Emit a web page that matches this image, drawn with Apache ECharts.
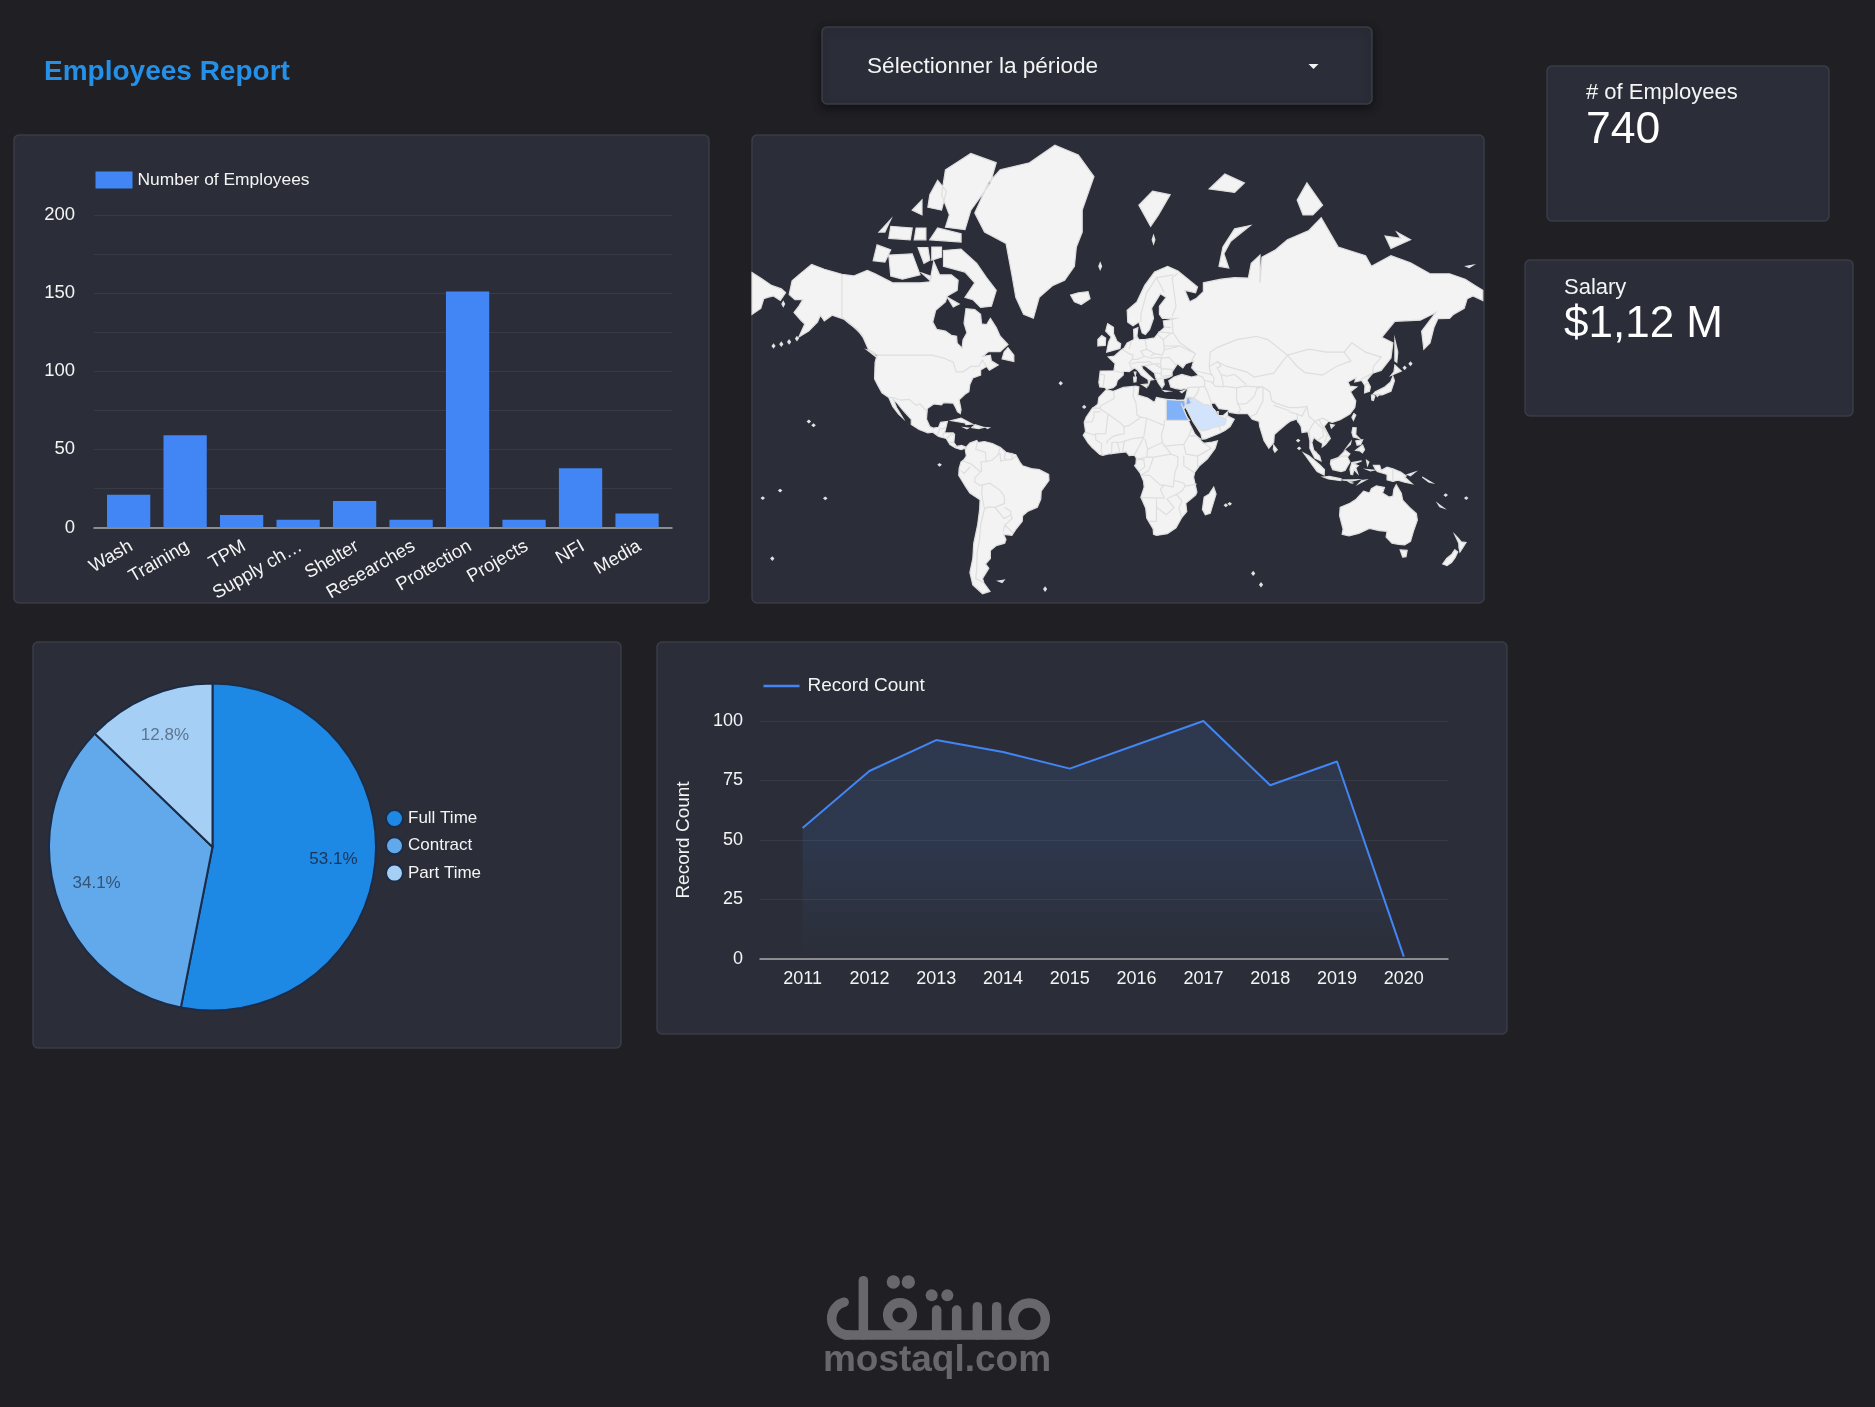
<!DOCTYPE html>
<html>
<head>
<meta charset="utf-8">
<title>Employees Report</title>
<script src="https://cdn.jsdelivr.net/npm/echarts@6/dist/echarts.min.js"></script>
<style>
  html, body { margin: 0; padding: 0; background: #1f1f24; }
  #chart { width: 1875px; height: 1407px; }
</style>
</head>
<body>
<div id="chart"></div>
<script>
// ---- Chart values ----
const departments = ['Wash', 'Training', 'TPM', 'Supply ch…', 'Shelter', 'Researches', 'Protection', 'Projects', 'NFI', 'Media'];
const employeesByDepartment = [21, 59, 8, 5, 17, 5, 151, 5, 38, 9];
const contractTypes = ['Full Time', 'Contract', 'Part Time'];
const contractShares = [53.1, 34.1, 12.8];
const years = ['2011', '2012', '2013', '2014', '2015', '2016', '2017', '2018', '2019', '2020'];
const recordCounts = [55, 79, 92, 87, 80, 90, 100, 73, 83, 1];
const countryNames = ['Saudi Arabia', 'Egypt', 'Jordan', 'Qatar'];
const countryValues = [60, 170, 170, 280];

// ---- Coarse world geography, longitude/latitude ----
const northAmerica = [[-168,65.6],[-166.5,68.4],[-163,69.5],[-156.5,71.3],[-150,70.5],[-141,69.6],[-135,69.3],[-128,70.3],[-124,69.7],[-115,68],[-108,68],[-101,68],[-96,68.2],[-94,71.8],[-91,69.5],[-85,69.5],[-81.5,68.5],[-82,66.5],[-87,65.3],[-88,64],[-93,62],[-94.5,59],[-92.5,57],[-88,56.5],[-85,55.3],[-82.3,55],[-82,52.9],[-79.5,51.3],[-79,54],[-77,56],[-78.5,58.7],[-77.5,62.4],[-73,62.2],[-70,61],[-69.5,58.5],[-67,58.3],[-65,60],[-62,57.5],[-60,55],[-56,52.5],[-60,50.2],[-66,50.2],[-69,48.5],[-65,49],[-64.5,47],[-61,45.5],[-65.5,43.6],[-67,45],[-70,43.7],[-70,41.7],[-74,40.6],[-75.5,38],[-76,35],[-78,33.9],[-81,31.5],[-80,27],[-80.4,25.2],[-81.8,26],[-82.8,28],[-84,30],[-89,30.2],[-90,29.2],[-94,29.6],[-97.3,27.5],[-97.7,22.5],[-96,19],[-94.3,18.2],[-91.5,18.6],[-90.5,21],[-87,21.5],[-88,17.5],[-88.5,15.8],[-84,15.8],[-83.3,15],[-83.7,11],[-82.3,9],[-79.7,9.5],[-77.4,8.6],[-78.2,8],[-80,7.3],[-83,8.3],[-85.7,10],[-87.6,13],[-91.5,14],[-94.5,16.2],[-97,15.9],[-101.5,17.5],[-105.5,20],[-105.5,22.5],[-109.5,26.5],[-112.7,30],[-114.7,31.7],[-113,28],[-110,23.5],[-109.7,23],[-112,25],[-115,28.5],[-117,32.5],[-120.5,34.5],[-122.5,37.5],[-124.3,40.3],[-124,46.5],[-123,49],[-127.5,51],[-130,54.5],[-133,57],[-137,58.5],[-140,59.8],[-146,60.8],[-150,59.3],[-152,60.8],[-153.5,59],[-158,56.5],[-163,54.8],[-160,58.5],[-162,59.5],[-165.5,61.5],[-163,63],[-161,64.5],[-165,64.5]];
const southAmerica = [[-77.4,8.6],[-75.5,10.7],[-72,12],[-71.5,11],[-68,11.5],[-64,10.5],[-60,8.5],[-57,6],[-52,4.7],[-50,1],[-48.5,-1],[-44,-2.5],[-40,-3],[-35.2,-5.5],[-35,-8.5],[-39,-14],[-39.2,-18],[-41,-22],[-46,-24],[-48.5,-26],[-48.7,-28.5],[-52,-32.2],[-54,-34.7],[-58.3,-34.3],[-57,-36.5],[-57.7,-38],[-62,-39],[-65,-41],[-65,-44],[-67.5,-46],[-65.8,-47.5],[-69,-51],[-68.3,-52.5],[-65.2,-55],[-69,-55.7],[-74,-53],[-75.5,-49],[-74,-44],[-73.5,-38],[-71.5,-30],[-70.5,-23],[-70.3,-18.3],[-75.5,-15],[-77.5,-12],[-81.2,-6],[-81,-2.3],[-80,1],[-78.7,2],[-77.3,4],[-77.8,7]];
const eurasia = [[-9,37],[-9.5,38.8],[-8.8,43.3],[-1.8,43.4],[-1.2,46],[-4.7,48.4],[-1.5,48.7],[1.5,50.5],[3.5,51.4],[5,53],[8.5,54],[8.3,57],[10.5,57.5],[10,55],[11,54],[14,54],[19,54.5],[21,56],[24,57.5],[23.5,59.3],[28,59.7],[30,60],[23,60],[21.5,61],[21.5,63],[25,65],[22,65.8],[17.5,62.5],[18.5,60],[16.5,57],[14.3,55.5],[12.7,56],[11,59],[8,58],[5.3,59],[5,62],[10,64],[14,67.5],[19,70],[25.7,71],[31,70.2],[41,67.2],[40,66],[34.5,66.5],[37,64],[40.5,64.8],[44,66.2],[44,68],[53,68.7],[60,69],[67,68.9],[68.5,71.5],[73,72.8],[73,68],[74,72.5],[81,73.6],[87,75],[98,76.2],[104.3,77.7],[113,74],[127,72.7],[130,71],[140,72.7],[150,71.6],[160,69.7],[170,69.7],[178,68.7],[183,67.5],[187,66.5],[187,64.3],[182,65.3],[179,64.7],[177.5,62.5],[172,61],[170,60],[164,59.9],[162,57.5],[160,53],[156.8,51],[155.7,56.5],[163,61.5],[155,59.5],[142,59.2],[135.3,54.7],[141,53],[140,48],[135,43.5],[130.7,42.5],[127.7,39.8],[129.5,37],[129,35.2],[126.5,34.5],[126.7,37.5],[125,39.6],[121.5,39],[122,40.7],[118,39],[119,37.3],[122.5,37],[119.3,35],[122,31],[121.5,28],[119,25],[114,22.3],[110,21],[108,21.6],[105.8,19],[109,13],[106.5,10],[104.8,8.7],[105,10.5],[102.5,12],[100.5,13.5],[99.5,11],[100.5,7],[103.5,4],[104.2,1.5],[101,3],[98.5,8],[98.5,12],[97.5,16.5],[94.5,16],[94,19],[91.7,22.5],[88.5,21.6],[86.8,20.5],[82.3,16.8],[80.3,15],[80,11],[77.5,8],[75,12],[72.8,19],[72.5,21.5],[69,22.5],[66.7,25.2],[61.6,25.2],[57.3,25.7],[56.5,27],[52,27.5],[50,30],[48,30],[48.5,28],[50,26.5],[50.8,24.8],[51.6,24.2],[54,24.2],[56.3,26],[56.5,24],[59.8,22.5],[57.7,19],[55,17],[52,15.5],[45,12.8],[43.4,12.7],[42.7,15.5],[39,21],[36,26.5],[35,28],[34.8,29.5],[34.3,31.3],[35,33],[36,36.5],[32.5,36],[30,36.3],[27.3,37],[26.3,39.5],[29,41],[33,42],[38,41],[41.6,41.6],[38,44.5],[39,47],[35,46],[33.5,44.5],[30.8,46],[28,43],[28,41.5],[26,40.7],[23.5,40.2],[24,38],[22.8,36.6],[21,38.5],[19.5,41],[19,42.5],[14,45.3],[12.3,45.3],[13,44],[16,41.8],[18.5,40],[16.8,39.8],[16,38],[15.7,40],[12.2,41.8],[10.3,43.7],[8.7,44.4],[6,43.1],[3,43.2],[3,41.8],[0,39.7],[-0.7,37.7],[-2.2,36.7],[-5.5,36],[-6.5,36.8]];
const caspianSea = [[47,45],[51.5,46.8],[53,45],[51,44.5],[53,42],[54,39],[54,37],[50,37.3],[49,38.5],[49.5,40.5],[47.5,43]];
const africa = [[34.3,31.3],[32.3,31.2],[30,31.3],[25,31.7],[20,32.5],[19,30.3],[15.5,32.3],[10.5,33.5],[11,37],[9.5,37.3],[3,36.8],[-2,35.2],[-5.8,35.8],[-9.5,32.5],[-10,29.5],[-13,27.5],[-16,23.5],[-17,21],[-16.3,16.5],[-17.5,14.7],[-15,10.8],[-13,8.5],[-9,4.8],[-7.5,4.4],[-4,5.2],[1,5.8],[4.5,6.2],[6,4.3],[8.7,4.5],[9.7,3],[9.5,0],[8.8,-1],[11.5,-4.5],[13.4,-9],[13.7,-12],[12,-17],[14.5,-22.5],[15,-27],[18.3,-32],[18.5,-34.3],[20,-34.8],[25.6,-34],[30,-31.5],[32.8,-27],[35.5,-24],[35,-20],[40,-16],[40.7,-14.5],[39,-7],[39.5,-4.5],[42,-1],[46,2.5],[50,8],[51.2,11.8],[48.5,11.2],[44,10.5],[43,11.7],[39.5,15.5],[37.2,20],[35.6,23.5],[33.6,27.8],[32.6,29.9],[33.5,28],[34.3,27.8],[34.8,29.5]];
const australia = [[114,-22],[113.7,-26],[115.5,-32],[115,-34.3],[118.5,-35],[123.5,-33.9],[129,-31.7],[134,-32.7],[138,-33],[137.5,-35.5],[140.5,-38],[144,-38.5],[147,-38.7],[150,-37.3],[151.5,-33],[153.5,-28],[153,-25],[149.5,-22],[146,-18.5],[145.3,-15],[142.7,-10.8],[141.5,-13],[141,-16.5],[139,-17],[135.7,-15],[136.7,-12.2],[132.5,-11.3],[130,-12.8],[129,-15],[126,-14],[122.2,-18],[119,-20]];
const islands = [
  [[-73,78.2],[-66,81],[-60,82],[-45,82.5],[-32,83.6],[-20,83],[-12,81.5],[-18,78.5],[-18,76],[-21,74],[-22,71],[-27,68.5],[-33,67.5],[-40,65],[-43,60],[-48,61],[-52,65],[-54,69.5],[-57,74.5],[-68,76]],
  [[-80,73.7],[-72,71.5],[-67,69],[-62,66.5],[-64.5,63],[-70,62.7],[-74,64.5],[-78,65],[-73,68],[-78,70],[-89,71],[-89,73.5]],
  [[-117,72.8],[-105,73],[-101,69.5],[-110,68.7],[-116,69.3]],
  [[-125,71.9],[-123,74.3],[-116,73.6],[-119,71.7]],
  [[-88,76.6],[-78,76.3],[-75,78.5],[-65,81],[-62,82.5],[-75,83.1],[-88,82],[-90,80],[-86,78]],
  [[-97,78.8],[-90,78.5],[-87.5,80.3],[-92,81.2],[-96,80]],
  [[-96,75],[-80,74.7],[-80,75.8],[-92,76.5]],
  [[-117,75.2],[-106,75],[-105,76.5],[-116,76.7]],
  [[-122,76],[-116,77.5],[-119,76]],
  [[-104,75],[-98,75],[-98,76.5],[-103,76.5]],
  [[-105,78.5],[-100,78],[-100,79.5]],
  [[-95,74],[-90,74],[-90,72.5],[-95,72]],
  [[-102,73.9],[-99,71.5],[-96,72],[-97,73.9]],
  [[-100,69.8],[-95,69.2],[-96,68.5]],
  [[-87,65],[-81,63.5],[-84,62.8]],
  [[-59,47.7],[-53,46.8],[-53,49],[-56,51.5],[-58,50]],
  [[-128,50.7],[-123.5,48.4],[-125,50]],
  [[-5.5,50],[1.3,51.2],[1.7,52.7],[-0.2,53.5],[-2,55.8],[-2,57.6],[-5,58.6],[-6,56.5],[-3.2,54.8],[-4.5,53.3],[-5,51.7]],
  [[-10,52],[-6.2,52.2],[-6,54.5],[-8,55.2],[-10,54]],
  [[-24,65.5],[-22,64],[-18.5,63.4],[-14,64.7],[-15,66.2],[-20,66]],
  [[11,79],[17,76.7],[21,78],[27,80],[18,80.3]],
  [[52,71],[57,70.7],[54.5,73],[58,74.8],[68,76.8],[60,76.4],[54,74]],
  [[47,80.5],[60,80.2],[65,81],[55,81.7]],
  [[92,79.5],[97,81],[105,79],[100,78],[95,78]],
  [[137,75.5],[140,73.8],[150,75],[143,76],[145,75.2]],
  [[178.5,71],[182,71.2],[180,70.8]],
  [[-187,69.9],[-182,68.8],[-177,67.5],[-172,66.8],[-169.8,66],[-172.5,64.3],[-176,65.3],[-179,65],[-181,64.7],[-182.5,62.5],[-187,61]],
  [[142,54],[143.5,50],[143,46.5],[142,47],[142,51]],
  [[130.9,34],[135.5,33.6],[140,35.2],[141.8,39.5],[141,41.3],[139.8,39],[136.8,37],[132,35]],
  [[140,41.6],[145.3,43.3],[142,45.5],[141.5,43]],
  [[130,33.5],[131.8,33.2],[131,31.2],[130.2,31.4]],
  [[132.5,33.8],[134.5,34],[133,32.9]],
  [[121,25.2],[122,24.5],[120.8,22],[120,23.5]],
  [[120.5,18.5],[122.2,18.4],[122,15],[124,13],[120.7,13.8],[120,16]],
  [[122,7],[125.5,9.7],[126.5,7.3],[125.4,5.7],[124,6.7]],
  [[122,11.8],[125.5,12.4],[124.5,10],[122.7,9.6]],
  [[117.3,8.4],[119.5,11.3],[119.2,10]],
  [[109.3,2],[113,3.2],[116.7,7],[119,5.2],[117.7,3.5],[119,1],[116.5,-3.5],[114.5,-4],[110.2,-3],[109,0]],
  [[95.3,5.6],[98,4.2],[103.5,-0.5],[106,-3],[105.8,-5.8],[102.2,-4],[98.8,0.7]],
  [[105.3,-6.8],[108.5,-6.5],[114.5,-7.7],[114.4,-8.7],[108,-7.8]],
  [[119.5,-5.5],[119,-2.8],[120,0.7],[125,1.5],[121,0],[123.3,-1],[122,-2],[123,-5],[121,-3],[120.4,-5.6]],
  [[115,-8.3],[120,-8.3],[123,-8.2],[120,-9]],
  [[123.5,-10.3],[127,-8.4],[125,-8.7]],
  [[119,-9.5],[120.8,-10],[119.5,-9.8]],
  [[131,-0.8],[134.2,-0.8],[135,-3.3],[138,-1.7],[141,-2.6],[145,-4.3],[147.8,-6.3],[147,-6.8],[150.8,-10.3],[147,-9.5],[143.5,-8.5],[141,-9.1],[138,-8.3],[138,-5.5],[133,-4],[132,-2.8]],
  [[127.9,-3],[131,-3.3],[129.5,-3.6]],
  [[127.5,1.8],[128.7,1],[128,-0.8]],
  [[148.5,-5.6],[152.3,-4.3],[150,-6.2]],
  [[156,-6.8],[161,-9.8],[159.5,-9.5]],
  [[164,-20.2],[167,-22.3],[165,-21.7]],
  [[172.7,-34.5],[174.5,-36],[176,-37.5],[178.4,-37.7],[177,-39.5],[175.3,-41.5],[174.8,-39.8],[174.7,-38]],
  [[172.7,-40.6],[174.2,-41.5],[172.8,-43.7],[171,-45.5],[168.7,-46.6],[166.5,-46],[168.5,-44],[171,-42.5]],
  [[144.7,-40.7],[148.3,-40.9],[147.7,-43.3],[146,-43.5]],
  [[80,9.7],[81.8,7.3],[80.6,6],[79.8,7.5]],
  [[109,20],[111,19.7],[109.5,18.2]],
  [[49.3,-12],[50.5,-15.5],[47.5,-24.8],[45,-25.5],[43.5,-23],[44.4,-17],[47,-15.4]],
  [[-85,21.9],[-80,23.1],[-74.2,20.2],[-77.5,19.9],[-78,20.7]],
  [[-74.4,18.5],[-72.8,19.9],[-68.4,18.6],[-71,18]],
  [[-78.3,18.4],[-76.3,18.2],[-77,17.8]],
  [[-67.2,18.5],[-65.7,18.4],[-66.5,18]],
  [[12.5,38],[15.6,38.2],[15,36.7]],
  [[8.3,41],[9.7,41],[9.5,39.1],[8.5,39]],
  [[8.6,42.9],[9.5,42.9],[9.2,41.5]],
  [[23.6,35.5],[26.3,35.2],[24.5,35]],
  [[32.3,35],[34.5,35.6],[33,34.6]],
  [[-61,-51.8],[-58,-51.5],[-59,-52.3]]
];
// Tiny islands, drawn as small diamonds.
const smallIslands = [[-155.5,19.6],[-157.9,21.4],[-176,52],[-172,52.6],[-168,53.3],[-164,54.3],[-171,63.5],[-91,-0.5],[-149.5,-17.6],[-172.6,-13.7],[178.5,-17.5],[-181.5,-17.5],[-176.6,-44],[69.5,-49.3],[73.5,-53],[-37,-54.3],[-17,28.3],[-29,38.5],[57.5,-20.3],[55.5,-21],[18.5,75],[-8.8,71],[168,-16],[150,46],[147,44.5],[92.5,12],[93,8]];
const saudiArabia = [[34.8,29.5],[36,29.2],[38,30],[37,31.5],[39,32.2],[44.7,29.2],[46.5,29.1],[48,29],[48.5,28],[50,26.5],[50.8,24.8],[51.6,24.2],[55.2,22.7],[55.7,22],[55,20],[52,19],[49,18.5],[46,17.3],[43.2,16.8],[42.7,16.5],[39,21],[36,26.5],[35,28]];
const egypt = [[25,31.7],[30,31.3],[32.3,31.2],[34.3,31.3],[34.8,29.5],[34.3,27.8],[33.5,28],[32.6,29.9],[33.6,27.8],[35.6,23.5],[36.9,22],[25,22]];
const jordan = [[35,29.5],[35.5,32.4],[36.8,32.3],[39,32.2],[37,31.5],[38,30],[36,29.2]];
const qatar = [[50.8,24.8],[51.6,24.6],[51.6,26.1],[51,26.1]];
const borders = [
  [[-123,49],[-95,49],[-89,48],[-84,46.5],[-82.5,43],[-79,43],[-75,45],[-71,45],[-69,47.3],[-67,45]],
  [[-141,69.6],[-141,60.2],[-137.5,59],[-130,55]],
  [[-117,32.5],[-114.7,32.5],[-111,31.3],[-106.5,31.7],[-103,29],[-101,29.7],[-97.3,25.9]],
  [[-92.2,14.5],[-91,17.8],[-89,17.9],[-88.3,18.5]],[[-89.2,14],[-89,15.9]],[[-87.5,13],[-85,14.9],[-83.2,15]],[[-85.7,11.1],[-83.7,11]],[[-83,8.3],[-82.8,9.6]],[[-77.4,8.6],[-77.9,7.2]],
  [[-71.5,11.8],[-72.5,7.5],[-67.5,6],[-67.3,2],[-67,1.2],[-69.8,1],[-69.5,-4.2]],
  [[-78.7,1.4],[-75,0],[-70,-4.2]],[[-80.3,-3.4],[-78.5,-5],[-75.3,-1.5]],
  [[-60,8.3],[-61,5],[-60,5.2],[-59.8,1.5],[-56.5,2],[-54,2.3],[-52,3.8]],[[-67,1.2],[-64,2],[-60.7,5]],[[-57.2,6],[-57.9,3],[-56.5,2]],[[-54,5.8],[-54,2.3]],
  [[-70,-4.2],[-73,-7.3],[-73,-9.5],[-70.6,-11],[-69,-11]],
  [[-69.5,-11],[-65.3,-10],[-60.2,-13.5],[-58,-16.3],[-57.7,-20],[-62.7,-22],[-66.2,-21.8],[-68,-22.8],[-69,-18],[-69.5,-15],[-69,-11]],
  [[-62.7,-22],[-58,-20.2]],[[-57.7,-22],[-54.5,-24],[-54.6,-25.6],[-58,-27.2],[-62.7,-22]],
  [[-68,-22.8],[-70,-30],[-70.5,-36],[-71.8,-42],[-72,-48],[-72.5,-51],[-68.5,-52.3]],
  [[-54.6,-25.6],[-53.8,-27.2],[-57.6,-30.2],[-58.4,-33]],[[-57.6,-30.2],[-53.5,-33.7]],
  [[-2,35],[-1.5,32.2],[-8.7,28.7],[-8.7,27.3]],[[-13,27.7],[-8.7,27.7]],[[-8.7,26],[-12,26],[-12,23.4],[-13,21.3],[-17,21]],
  [[-8.7,27.3],[-4.8,25],[-6,15.5],[-11.3,15.3],[-12.2,14.8],[-16.5,16.2]],
  [[-4.8,25],[1.2,21],[3.3,19],[5.8,19.4],[12,23.5]],[[8.5,37],[8,33],[9.5,30.2],[10,24.5],[12,23.5]],
  [[12,23.5],[15,23],[24,19.5]],[[24,22],[24,19.5],[22.5,15],[23,11]],[[15,23],[13.5,14]],[[3.6,11.7],[8,13],[13.5,13.7]],[[3.3,19],[3.5,15.4],[1,15]],
  [[-5.5,10.4],[-5,12],[-2,14.2],[1,15]],[[-3,11],[2.2,11.2],[3.6,11.7]],[[-11.3,15.3],[-11,12.2],[-8,10.5],[-8.3,7.6]],[[-7.5,4.4],[-8.5,7.5]],[[-3,5],[-2.8,11]],[[1.2,6.1],[0,11]],[[2.7,6.4],[3.6,11.7]],
  [[8.7,4.5],[13.5,13.7]],[[14,13],[15.5,7.5],[15,3.5],[9.8,2.3]],[[15.5,7.5],[23,11],[27.5,5]],[[18.5,3.5],[27.5,5],[31,3.7]],[[15,3.5],[18.5,3.5],[16,-3.5],[12.2,-5.8]],[[9.8,2.3],[13.5,2.2],[14,-1.5],[11.2,-3.9]],
  [[12.2,-5.9],[16.5,-6],[22,-11],[24,-11],[28.5,-12],[29,-8.5],[29.5,-4],[30.8,-1],[31,3.7]],
  [[36.5,14.3],[34,10],[35,5]],[[23.5,9],[28,9.5],[34,10]],[[34,4.2],[34,-1]],[[34,-1],[39.5,-4.6]],[[35,5],[41,4],[41,-1.6]],[[41,4],[48,8],[43,11.5]],[[36.5,14.3],[38,18]],[[36.5,14.3],[40,14.5],[43,12.5]],
  [[29,-8.5],[34,-10],[34.7,-11.5],[40.5,-10.5]],[[12,-17.3],[24,-17.5],[22,-13],[24,-11]],[[20,-18],[20,-28.5],[16.5,-28.6]],[[20,-22],[25,-25.5],[29,-22.2],[25.3,-17.8]],[[25.3,-17.8],[30.3,-15.6],[33,-14],[34.7,-11.5]],[[32.9,-26.8],[31.5,-22.3],[33,-19],[30.3,-15.6]],
  [[-1.8,43.4],[3,42.5]],[[-8.8,42],[-6.5,41.8],[-7.3,37.2]],[[2.5,51],[6,49.5],[8,49],[7.5,47.5],[6,46.3],[7.5,44]],[[6,51],[7,53.3]],[[9,54.8],[10,54.5]],
  [[14.2,54],[15,51],[12,50.3],[13.8,48.6],[10,47.5],[7.5,47.5]],[[15,51],[19,49.5],[23,49],[24,50.8],[23.5,54]],[[21,55.3],[23.5,54],[27,55.8],[28.5,56]],[[21,56.3],[27,56]],[[24,57.7],[27.5,57.5]],
  [[7,45.9],[10,46.5],[13.7,46.5],[16.5,46.8]],[[13.8,48.6],[17,48]],[[19,49.5],[17,48.7]],[[17,48],[22.5,48.2],[22,46],[18,45.8],[16.5,46.8]],[[22.5,48],[26.5,48.2],[30,45.5]],[[22,46],[22.5,44.2],[28.5,43.8]],[[22.5,44.2],[22.5,41.3],[26.5,41.5],[28,42]],[[19.5,40],[26.3,41]],[[14,45.3],[19,45.9],[22.5,44.2]],[[19,42.5],[22.5,42.3]],
  [[24,50.8],[32,52],[40,49.5],[38,47]],[[23.5,52],[32,52]],[[28,59.5],[28.5,56],[32,53],[40,49.5]],[[31,69.8],[28,69],[30,63],[28,60.5]],[[12,59],[12,61],[15,66],[20,69],[28.5,69.5]],[[24,66],[20,69]],
  [[36,36.7],[42,37],[44.7,37.2],[44.5,39.7],[43.5,41],[41.6,41.6]],[[40,43.4],[48.5,41.8]],[[44.5,39.7],[48,39],[48.9,38.4]],[[42,37],[41,34.5],[39,32.2]],[[44.7,37.2],[46,35],[48,30.5]],[[35.9,32.9],[39,32.2]],
  [[52,19],[53,16.6]],[[51.6,24.2],[55.2,22.7],[56.4,24.5]],[[44.7,29.2],[48,29]],
  [[54,37.3],[61,36.6],[61,31.5],[63,27],[61.6,25.2]],[[61,36.6],[65,37.3],[71.5,37],[74.5,37]],[[61,29.5],[66,29.8],[70,33],[71.5,36.5],[74.5,37]],[[53,42],[56,41.3],[60,42],[66,38]],
  [[47.5,50],[51,51.5],[61,54],[71,55],[77,54],[87,49],[80,42.5],[70,41],[66,43],[56,45],[51,46.8]],[[47,45],[47.5,50]],
  [[87,49],[98,51],[107,50],[116,50],[120,53],[127,50],[135,48.3],[131,45],[130.7,42.5]],[[87,49],[92,45],[96,42.7],[105,41.7],[112,45],[119.5,47],[116,50]],
  [[74.5,37],[78,35],[79,31],[81,30],[88,28],[92,28],[97,28.5],[98,24],[101,21.5],[105,23],[108,21.6]],[[68,23.7],[71,25],[74.5,31],[74.5,37]],[[80,29],[88,26.5]],[[88,26],[92,25],[92.3,21]],[[92,25],[94.5,24],[97,28.5]],
  [[101,21.5],[98,17],[99,11]],[[101,21.5],[105,18],[105.5,14.2],[102.5,12]],[[103,22.5],[107.5,15],[106,11]],[[124.5,40],[130.7,42.5]],[[126.7,38],[128.5,38.5]],[[100.2,6.5],[102,6]],[[109.5,1.5],[115,4],[117.5,4.1]],[[141,-2.6],[141,-9.1]]
];

// Mercator scales used by the map, in pixels per degree and per radian.
const lonScale = 1.954, latScale = 110.5;
const project = ([lon, lat]) => [
  lon * lonScale,
  -latScale * Math.log(Math.tan(Math.PI / 4 + lat * Math.PI / 360))
];
const unproject = ([x, y]) => [
  x / lonScale,
  (2 * Math.atan(Math.exp(-y / latScale)) - Math.PI / 2) * 180 / Math.PI
];

const speck = ([lon, lat]) => {
  const d = 0.7;
  return [[lon - d, lat], [lon, lat + d * 0.8], [lon + d, lat], [lon, lat - d * 0.8]];
};
const feature = (name, geometry) => ({ type: 'Feature', properties: { name }, geometry });
const worldGeo = {
  type: 'FeatureCollection',
  features: [
    feature('Land', {
      type: 'MultiPolygon',
      coordinates: [
        [northAmerica], [southAmerica], [eurasia, caspianSea], [africa], [australia],
        ...islands.map(r => [r]), ...smallIslands.map(p => [speck(p)])
      ]
    }),
    feature('Borders', { type: 'MultiLineString', coordinates: borders }),
    feature('Saudi Arabia', { type: 'Polygon', coordinates: [saudiArabia] }),
    feature('Egypt', { type: 'Polygon', coordinates: [egypt] }),
    feature('Jordan', { type: 'Polygon', coordinates: [jordan] }),
    feature('Qatar', { type: 'Polygon', coordinates: [qatar] })
  ]
};
echarts.registerMap('world', worldGeo);

// ---- Styling ----
const FONT = '"Liberation Sans", Arial, sans-serif';
const PANEL = '#2b2e38', EDGE = '#3a3d46', GRIDLINE = '#383b45', AXIS = '#ababab', TEXT = '#f4f4f4';
const BLUE = '#4285f4', GREY_LOGO = '#68686c';

const panel = (x, y, x2, y2, extra) => ({
  type: 'rect', z: -5,
  shape: { x, y, width: x2 - x, height: y2 - y, r: 5 },
  style: Object.assign({ fill: PANEL, stroke: EDGE, lineWidth: 1.5 }, extra || {})
});
const label = (x, y, text, size, extra) => ({
  type: 'text', z: 5, x, y, silent: true,
  style: Object.assign({ text, fill: TEXT, font: `${size}px ${FONT}`, verticalAlign: 'middle' }, extra || {})
});

// Logo pieces are given in a 900×450 design box and scaled onto the page.
const logoX = v => 780 + v / 3, logoY = v => 1250 + v / 3;
const logoStroke = { stroke: GREY_LOGO, fill: 'none', lineWidth: 9.5, lineCap: 'round' };
const logoLine = (x1, y1, x2, y2) => ({ type: 'line', z: -4, shape: { x1: logoX(x1), y1: logoY(y1), x2: logoX(x2), y2: logoY(y2) }, style: logoStroke });
const logoRing = (cx, cy, r) => ({ type: 'circle', z: -4, shape: { cx: logoX(cx), cy: logoY(cy), r: r / 3 }, style: logoStroke });
const logoDot = (cx, cy, r) => ({ type: 'circle', z: -4, shape: { cx: logoX(cx), cy: logoY(cy), r: r / 3 }, style: { fill: GREY_LOGO } });

const graphicElements = [
  panel(14, 135, 709, 603),
  panel(752, 135, 1484, 603),
  panel(33, 642, 621, 1048),
  panel(657, 642, 1507, 1034),
  panel(1547, 66, 1829, 221),
  panel(1525, 260, 1853, 416),
  panel(822, 27, 1372, 104, { shadowBlur: 10, shadowOffsetY: 3, shadowColor: 'rgba(0,0,0,0.45)' }),
  label(867, 67, 'Sélectionner la période', 22.6),
  { type: 'polygon', z: 5, shape: { points: [[1308.5, 64], [1318.5, 64], [1313.5, 69]] }, style: { fill: '#f4f4f4' } },
  label(1586, 93, '# of Employees', 22),
  label(1586, 131, '740', 44.5, { fill: '#ffffff' }),
  label(1564, 287.5, 'Salary', 22),
  label(1564, 324.5, '$1,12 M', 44, { fill: '#ffffff' }),
  logoLine(195, 255, 745, 255),
  { type: 'arc', z: -4, shape: { cx: logoX(205), cy: logoY(205), r: 50 / 3, startAngle: Math.PI * 0.5, endAngle: Math.PI * 1.42, clockwise: true }, style: logoStroke },
  logoLine(250, 92, 250, 255),
  logoRing(360, 195, 37),
  logoDot(340, 96, 20), logoDot(385, 96, 20),
  logoLine(470, 180, 470, 255), logoLine(530, 180, 530, 255), logoLine(592, 170, 592, 255), logoLine(650, 170, 650, 255),
  logoDot(455, 136, 18), logoDot(502, 136, 18),
  logoRing(748, 207, 48),
  label(937, 1360.5, 'mostaql.com', 37, { fill: GREY_LOGO, font: `bold 37px ${FONT}`, align: 'center' })
];

const valueTicks = {
  axisLine: { show: false }, axisTick: { show: false },
  splitLine: { show: true, lineStyle: { color: GRIDLINE, width: 1 } }
};
const plainAxisLine = { show: true, onZero: false, lineStyle: { color: AXIS, width: 1.5 } };

const option = {
  backgroundColor: '#1f1f24',
  animation: false,
  textStyle: { fontFamily: FONT },
  title: [{
    text: 'Employees Report', left: 39, top: 53.5,
    textStyle: { color: '#2490e8', fontSize: 28, fontWeight: 'bold', fontFamily: FONT }
  }],
  graphic: { elements: graphicElements },
  grid: [
    { left: 94, width: 578, top: 215, height: 312.5 },
    { left: 100.4, width: 564.9, top: 215, height: 312.5 },
    { left: 760, width: 688, top: 721, height: 238 },
    { left: 769.2, width: 668, top: 721, height: 238 }
  ],
  xAxis: [
    { gridIndex: 0, type: 'value', min: 0, max: 1, axisLine: plainAxisLine, axisTick: { show: false }, axisLabel: { show: false }, splitLine: { show: false } },
    {
      gridIndex: 1, type: 'category', data: departments,
      axisLine: { show: false }, axisTick: { show: false },
      axisLabel: { interval: 0, rotate: 30, margin: 19, padding: [0, -3, 0, 0], color: TEXT, fontSize: 18.5, fontFamily: FONT }
    },
    { gridIndex: 2, type: 'value', min: 0, max: 1, axisLine: plainAxisLine, axisTick: { show: false }, axisLabel: { show: false }, splitLine: { show: false } },
    {
      gridIndex: 3, type: 'category', data: years,
      axisLine: { show: false }, axisTick: { show: false },
      axisLabel: { interval: 0, margin: 11, color: TEXT, fontSize: 18, fontFamily: FONT }
    }
  ],
  yAxis: [
    Object.assign({
      gridIndex: 0, type: 'value', min: 0, max: 200, interval: 25,
      axisLabel: { margin: 19, color: TEXT, fontSize: 18.5, fontFamily: FONT, formatter: v => (v % 50 === 0 ? v : '') }
    }, valueTicks),
    { gridIndex: 1, type: 'value', min: 0, max: 200, show: false },
    Object.assign({
      gridIndex: 2, type: 'value', min: 0, max: 100, interval: 25,
      name: 'Record Count', nameLocation: 'middle', nameRotate: 90, nameGap: 67,
      nameTextStyle: { color: TEXT, fontSize: 19, fontFamily: FONT },
      axisLabel: { margin: 17, color: TEXT, fontSize: 18, fontFamily: FONT }
    }, valueTicks),
    { gridIndex: 3, type: 'value', min: 0, max: 100, show: false }
  ],
  legend: [
    {
      data: [{ name: 'Number of Employees', icon: 'rect' }], left: 90.5, top: 166.5,
      itemWidth: 37, itemHeight: 17, selectedMode: false, itemGap: 0,
      textStyle: { color: TEXT, fontSize: 17.4, fontFamily: FONT }
    },
    {
      data: [{ name: 'Record Count', icon: 'rect' }], left: 758.5, top: 671.5,
      itemWidth: 36, itemHeight: 2.5, selectedMode: false,
      textStyle: { color: TEXT, fontSize: 19, fontFamily: FONT, padding: [0, 0, 0, 3] }
    },
    {
      data: contractTypes.map(name => ({ name, icon: 'circle' })), left: 380, top: 804,
      orient: 'vertical', itemWidth: 17, itemHeight: 17, itemGap: 8.3, selectedMode: false,
      textStyle: { color: TEXT, fontSize: 17, fontFamily: FONT }
    }
  ],
  visualMap: {
    show: false, seriesIndex: 4, min: 60, max: 280,
    inRange: { color: ['#d2e3fc', '#80b1f9', '#1f5fc0'] }
  },
  series: [
    {
      name: 'Number of Employees', type: 'bar', xAxisIndex: 1, yAxisIndex: 1,
      data: employeesByDepartment, barCategoryGap: '23.4%',
      itemStyle: { color: BLUE }, silent: true
    },
    {
      name: 'Record Count', type: 'line', xAxisIndex: 3, yAxisIndex: 3,
      data: recordCounts, symbol: 'none', silent: true,
      lineStyle: { color: BLUE, width: 2 }, itemStyle: { color: BLUE },
      areaStyle: {
        color: new echarts.graphic.LinearGradient(0, 0, 0, 1, [
          { offset: 0, color: 'rgba(66,133,244,0.17)' },
          { offset: 0.5, color: 'rgba(66,133,244,0.16)' },
          { offset: 1, color: 'rgba(66,133,244,0)' }
        ])
      }
    },
    {
      type: 'pie', center: [212.5, 847], radius: 163.5, silent: true,
      data: contractTypes.map((name, i) => ({ name, value: contractShares[i] })),
      color: ['#1e88e5', '#62a9ec', '#a6cff5'],
      itemStyle: { borderColor: '#1c2c47', borderWidth: 2 },
      label: { show: false }, labelLine: { show: false }
    },
    {
      // Transparent ring whose mid radius carries the percentage labels.
      type: 'pie', center: [212.5, 847], radius: [74, 163], silent: true, z: 3,
      data: contractTypes.map((name, i) => ({
        name, value: contractShares[i],
        label: { color: ['#1a3558', '#345375', '#5d7690'][i] }
      })),
      itemStyle: { color: 'transparent' },
      label: { show: true, position: 'inside', fontSize: 17, fontFamily: FONT, formatter: '{c}%' },
      labelLine: { show: false }
    },
    {
      type: 'map', map: 'world', roam: false, silent: true, selectedMode: false,
      showLegendSymbol: false,
      projection: { project, unproject },
      boundingCoords: [[-187, 84], [187, -57]],
      left: 752, top: 138,
      width: 374 * lonScale,
      height: project([0, -57])[1] - project([0, 84])[1],
      data: countryNames.map((name, i) => ({ name, value: countryValues[i] })),
      label: { show: false },
      emphasis: { disabled: true },
      itemStyle: { areaColor: '#f3f3f3', borderColor: '#dedede', borderWidth: 1.2 }
    }
  ]
};

const chart = echarts.init(document.getElementById('chart'));
chart.setOption(option);
</script>
</body>
</html>
